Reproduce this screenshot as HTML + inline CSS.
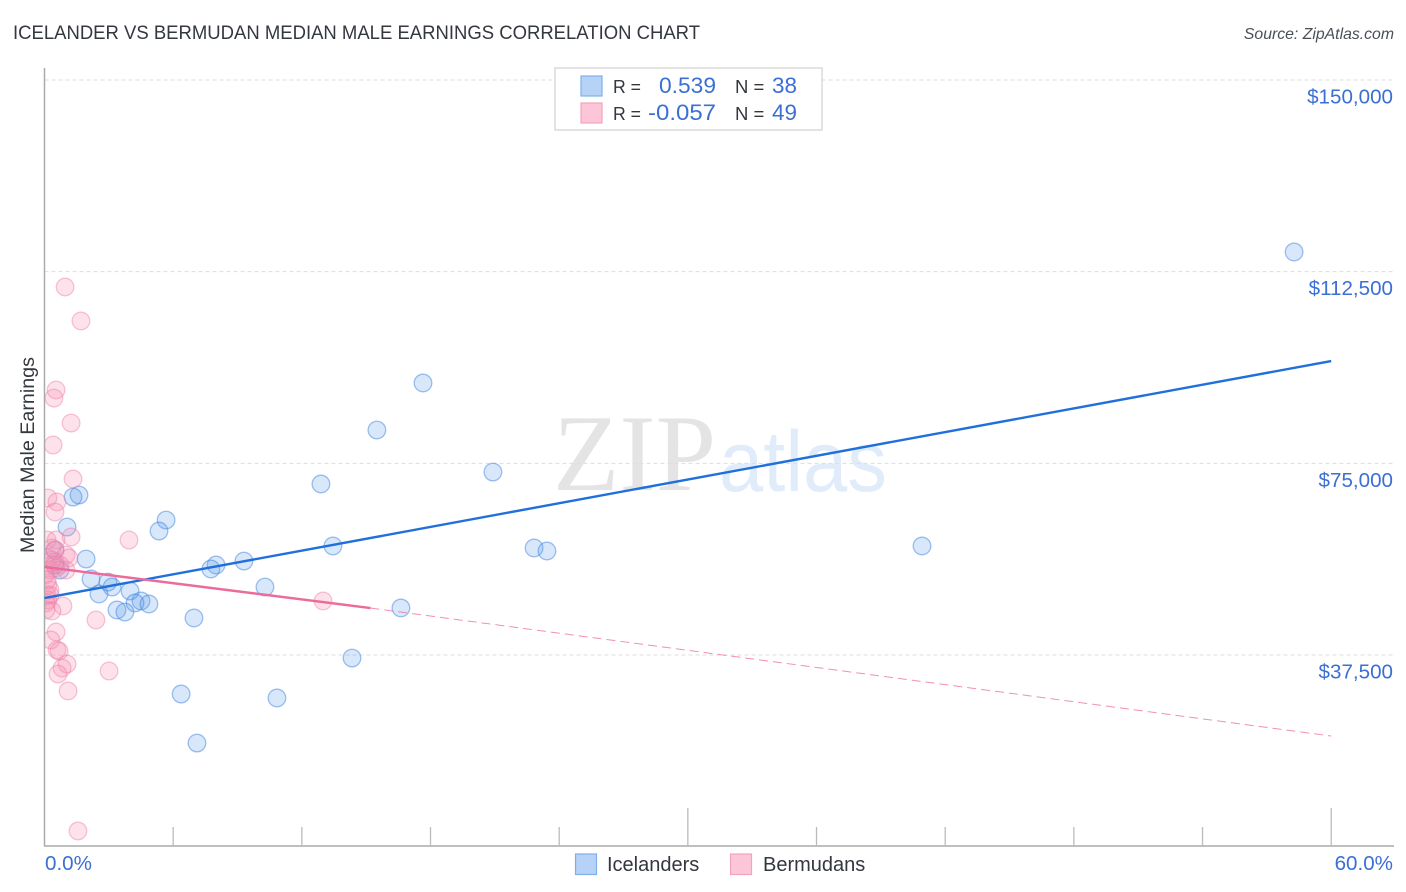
<!DOCTYPE html>
<html>
<head>
<meta charset="utf-8">
<title>Icelander vs Bermudan Median Male Earnings Correlation Chart</title>
<style>
html,body{margin:0;padding:0;background:#fff;}
svg{display:block;font-family:"Liberation Sans",sans-serif;}
</style>
</head>
<body>
<svg id="chart" width="1406" height="892" viewBox="0 0 1406 892" xmlns="http://www.w3.org/2000/svg">
  <defs>
    <clipPath id="plot-clip"><rect x="45" y="60" width="1349" height="786"/></clipPath>
  </defs>
  <text x="13" y="39" font-size="19.5" fill="#33373e" textLength="687" lengthAdjust="spacingAndGlyphs">ICELANDER VS BERMUDAN MEDIAN MALE EARNINGS CORRELATION CHART</text>
  <text x="1394" y="39" font-size="15.8" font-style="italic" fill="#4a4f57" text-anchor="end">Source: ZipAtlas.com</text>

  <g>
    <text x="553" y="490" font-family="'Liberation Serif',serif" font-size="109" fill="#e4e4e4" textLength="163" lengthAdjust="spacingAndGlyphs">ZIP</text>
    <text x="719" y="491" font-family="'Liberation Sans',sans-serif" font-size="86" fill="#e1ecfb" textLength="168" lengthAdjust="spacingAndGlyphs">atlas</text>
  </g>

  <g id="grid"></g>
  <g id="axes"></g>
  <g id="ylabels"></g>
  <g id="xlabels"></g>
  <text transform="translate(34,455) rotate(-90)" font-size="19.7" fill="#33373e" text-anchor="middle">Median Male Earnings</text>

  <g id="points-blue" clip-path="url(#plot-clip)"></g>
  <g id="points-pink" clip-path="url(#plot-clip)"></g>
  <g id="trends"></g>

  <g>
    <rect x="555" y="68" width="267" height="62" fill="#fff" stroke="#dcdcdc" stroke-width="1.6"/>
    <rect x="581" y="76" width="21" height="20" fill="#b6d2f6" stroke="#7fb0ec" stroke-width="1.2"/>
    <rect x="581" y="103" width="21" height="20" fill="#fcc5d8" stroke="#f3a3bf" stroke-width="1.2"/>
    <text x="613" y="93" font-size="18.5" fill="#33373e" textLength="28" lengthAdjust="spacingAndGlyphs">R =</text>
    <text x="659" y="93" font-size="22" fill="#3b6fd4" textLength="57" lengthAdjust="spacingAndGlyphs">0.539</text>
    <text x="735" y="93" font-size="18.5" fill="#33373e">N =</text>
    <text x="772" y="93" font-size="22" fill="#3b6fd4" textLength="25" lengthAdjust="spacingAndGlyphs">38</text>
    <text x="613" y="120" font-size="18.5" fill="#33373e" textLength="28" lengthAdjust="spacingAndGlyphs">R =</text>
    <text x="648" y="120" font-size="22" fill="#3b6fd4" textLength="68" lengthAdjust="spacingAndGlyphs">-0.057</text>
    <text x="735" y="120" font-size="18.5" fill="#33373e">N =</text>
    <text x="772" y="120" font-size="22" fill="#3b6fd4" textLength="25" lengthAdjust="spacingAndGlyphs">49</text>
  </g>

  <g>
    <rect x="575.5" y="854" width="21" height="20.5" fill="#b6d2f6" stroke="#7fb0ec" stroke-width="1.2"/>
    <text x="607" y="871" font-size="20" fill="#33373e">Icelanders</text>
    <rect x="730.5" y="854" width="21" height="20.5" fill="#fcc5d8" stroke="#f3a3bf" stroke-width="1.2"/>
    <text x="763" y="871" font-size="20" fill="#33373e">Bermudans</text>
  </g>
</svg>
<script>
const yTickValues = [150000, 112500, 75000, 37500];
const yTickLabels = ["$150,000", "$112,500", "$75,000", "$37,500"];
const xTickValues = [6, 12, 18, 24, 30, 36, 42, 48, 54, 60];
const xMajorTicks = [30, 60];
const xEndLabels = ["0.0%", "60.0%"];

const icelanderPct = [58.27,17.65,15.50,20.91,12.89,1.61,1.33,5.67,5.34,1.05,40.92,13.45,22.83,23.43,9.30,8.00,7.76,1.94,0.49,0.72,2.17,2.96,3.15,2.54,3.99,10.28,4.50,4.22,4.87,3.38,3.75,16.62,6.97,14.34,6.37,10.84,7.11,0.49];
const icelanderEarnings = [116350,90720,81520,73300,70960,68800,68410,63910,61760,62540,58830,58830,58440,57850,55890,55110,54330,56280,58040,54130,52370,51780,50800,49440,50020,50800,48070,47680,47480,46310,45910,46700,44740,36910,29870,29090,20280,55110];

const bermudanPct = [0.96,1.70,0.54,0.44,1.24,0.40,1.33,0.16,0.58,0.49,1.24,3.94,0.12,0.54,0.49,1.00,1.14,0.16,0.35,0.72,0.12,0.26,1.00,0.54,0.02,0.16,0.26,0.12,0.26,0.16,0.86,0.07,0.35,2.40,12.99,0.54,0.30,0.58,0.68,1.05,0.82,3.01,0.63,1.10,1.56,0.07,0.12,0.35,0.49];
const bermudanEarnings = [109500,102850,89350,87780,82890,78590,71940,68220,67440,65480,60590,60000,60000,60000,58040,57070,56480,56480,56090,55110,54910,54130,54130,54520,53150,51200,50220,49240,49240,48260,47090,47680,46110,44350,48070,42000,40440,38480,38280,35740,34960,34370,33780,30460,3070,46310,52175,58440,55700];

const blueTrendPct = [0, 60];
const blueTrendEarnings = [48650, 95020];
const pinkSolidPct = [0, 15.2];
const pinkSolidEarnings = [54720, 46690];
const pinkDashPct = [15.2, 60];
const pinkDashEarnings = [46690, 21650];

const NS = "http://www.w3.org/2000/svg";
const xScale = function (pct) { return 44.5 + pct * 21.445; };
const yScale = function (val) { return 80 + (150000 - val) * 191.67 / 37500; };

function make(tag, attrs, parent) {
  const el = document.createElementNS(NS, tag);
  Object.keys(attrs).forEach(function (k) { el.setAttribute(k, attrs[k]); });
  parent.appendChild(el);
  return el;
}

const grid = document.getElementById("grid");
const axes = document.getElementById("axes");
const ylabels = document.getElementById("ylabels");
const xlabels = document.getElementById("xlabels");
const blueLayer = document.getElementById("points-blue");
const pinkLayer = document.getElementById("points-pink");
const trends = document.getElementById("trends");

yTickValues.forEach(function (v, i) {
  const line = make("line", {x1: 44.5, x2: 1394, y1: yScale(v), y2: yScale(v), stroke: "#dddddd", "stroke-width": 1, "stroke-dasharray": "4 3"}, grid);
  
  
  const label = make("text", {x: 1393, y: yScale(v) + 23.5, "font-size": 20.6, fill: "#3b6fd4", "text-anchor": "end"}, ylabels);
  label.textContent = yTickLabels[i];
  
  
});

const yAxisLine = make("line", {x1: 44.5, x2: 44.5, y1: 68, y2: 846, stroke: "#aaaaaa", "stroke-width": 1.5}, axes);


const xAxisLine = make("line", {x1: 44, x2: 1394, y1: 846, y2: 846, stroke: "#aaaaaa", "stroke-width": 1.5}, axes);



xTickValues.forEach(function (p) {
  const top = xMajorTicks.indexOf(p) >= 0 ? 808 : 827;
  const tick = make("line", {x1: xScale(p), x2: xScale(p), y1: top, y2: 846, stroke: "#bbbbbb", "stroke-width": 1.3}, axes);
  
  
});

const xLabelStart = make("text", {x: 45, y: 870, "font-size": 20.6, fill: "#3b6fd4"}, xlabels);
xLabelStart.textContent = xEndLabels[0];


const xLabelEnd = make("text", {x: 1393, y: 870, "font-size": 20.6, fill: "#3b6fd4", "text-anchor": "end"}, xlabels);
xLabelEnd.textContent = xEndLabels[1];



icelanderPct.forEach(function (p, i) {
  const c = make("circle", {cx: xScale(p), cy: yScale(icelanderEarnings[i]), r: 8.8, fill: "#5d9cec", "fill-opacity": 0.24, stroke: "#3f86e0", "stroke-opacity": 0.5, "stroke-width": 1.3}, blueLayer);
  
  
});

bermudanPct.forEach(function (p, i) {
  const c = make("circle", {cx: xScale(p), cy: yScale(bermudanEarnings[i]), r: 8.8, fill: "#f78fb3", "fill-opacity": 0.26, stroke: "#ee7fa6", "stroke-opacity": 0.45, "stroke-width": 1.3}, pinkLayer);
  
  
});

const blueTrend = make("line", {x1: xScale(blueTrendPct[0]), x2: xScale(blueTrendPct[1]), y1: yScale(blueTrendEarnings[0]), y2: yScale(blueTrendEarnings[1]), stroke: "#1f6fdc", "stroke-width": 2.4}, trends);


const pinkSolid = make("line", {x1: xScale(pinkSolidPct[0]), x2: xScale(pinkSolidPct[1]), y1: yScale(pinkSolidEarnings[0]), y2: yScale(pinkSolidEarnings[1]), stroke: "#ec6b9a", "stroke-width": 2.4}, trends);


const pinkDash = make("line", {x1: xScale(pinkDashPct[0]), x2: xScale(pinkDashPct[1]), y1: yScale(pinkDashEarnings[0]), y2: yScale(pinkDashEarnings[1]), stroke: "#ec6b9a", "stroke-opacity": 0.75, "stroke-width": 1, "stroke-dasharray": "9 5"}, trends);


</script>
</body>
</html>
